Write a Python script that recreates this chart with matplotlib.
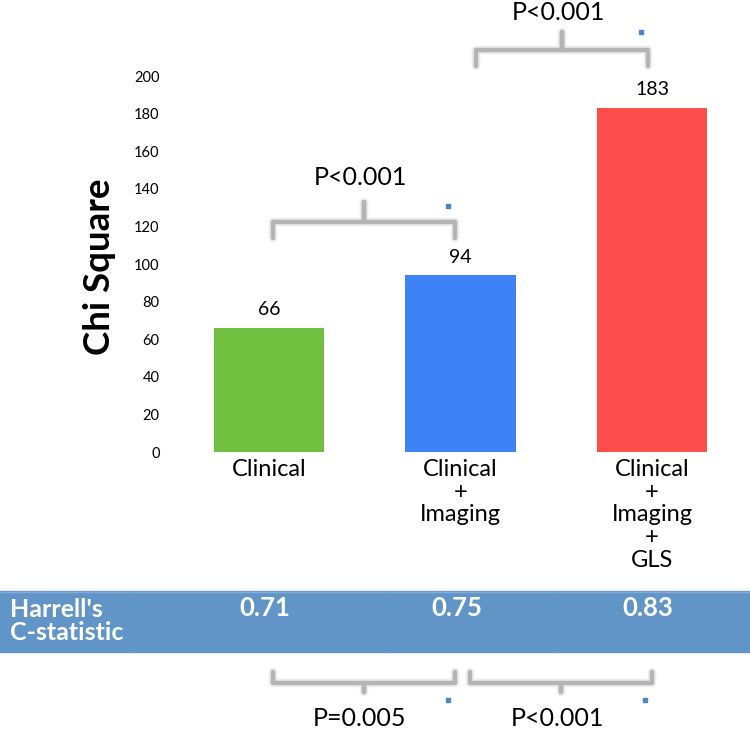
import numpy as np
import matplotlib.pyplot as plt
from matplotlib import transforms

plt.rcParams['font.family'] = ['Lato', 'DejaVu Sans']

# data
categories = ['Clinical', 'Clinical\n+\nImaging', 'Clinical\n+\nImaging\n+\nGLS']
chi_square = [66, 94, 183]
c_stat = ['0.71', '0.75', '0.83']
bar_colors = ['#71c03f', '#3f82f8', '#fd4c4c']
top_pairs = [(0, 1, 'P<0.001'), (1, 2, 'P<0.001')]
bottom_pairs = [(0, 1, 'P=0.005'), (1, 2, 'P<0.001')]

W, H = 750, 729
fig = plt.figure(figsize=(W / 100, H / 100), dpi=100)

# overlay in pixel coords (y from top)
ov = fig.add_axes([0, 0, 1, 1], zorder=0)
ov.set_xlim(0, W)
ov.set_ylim(H, 0)
ov.axis('off')

ax = fig.add_axes([175 / W, 1 - 452 / H, 565 / W, 376 / H], zorder=1)
ax.patch.set_alpha(0)
x = np.arange(len(categories))
ax.bar(x, chi_square, width=0.575, color=bar_colors)
ax.set_xlim(-0.491, 2.4595)
ax.set_ylim(0, 200)
ax.set_yticks(range(0, 201, 20))
ax.tick_params(axis='y', length=0, pad=11, labelsize=10.5)
ax.set_xticks(x, categories)
ax.tick_params(axis='x', length=0, pad=5, labelsize=17)
for lab in ax.get_xticklabels():
    lab.set_linespacing(1.1)
for s in ax.spines.values():
    s.set_visible(False)

for xi, v in zip(x, chi_square):
    ax.annotate(str(v), (xi, v), xytext=(0, 7), textcoords='offset points',
                ha='center', va='bottom', fontsize=14)

fig.text(100 / W, 1 - 267 / H, 'Chi Square', rotation=90, ha='center',
         va='center', fontsize=26.5, fontweight='bold')

# x in bar units, y in pixels from top
mix = transforms.blended_transform_factory(ax.transData, ov.transData)
gray = '#b4b4b4'


def bracket(a, b, y_end, y_mid, y_tip, label, y_text, mark):
    xs = [a, a, (a + b) / 2, (a + b) / 2, (a + b) / 2, b, b]
    ys = [y_end, y_mid, y_mid, y_tip, y_mid, y_mid, y_end]
    for lw, al in [(6, 0.25), (3.2, 1.0)]:
        ov.plot(xs, ys, color=gray, lw=lw, alpha=al, transform=mix,
                solid_joinstyle='round', solid_capstyle='round', clip_on=False)
    ov.text((a + b) / 2 - 0.02, y_text, label, transform=mix, ha='center',
            va='center', fontsize=18)
    ov.plot([b - 0.035], [mark], marker='s', ms=2.2, color='#4a86c8',
            transform=mix)


# top brackets
bracket(0.02, 0.97, 238, 222, 202, top_pairs[0][2], 177, 206)
bracket(1.08, 1.98, 66, 50, 32, top_pairs[1][2], 12, 32)

# C-statistic band
ov.add_patch(plt.Rectangle((0, 591), W, 61, color='#6195c8', zorder=1))
ov.plot([0, W], [592, 592], color='#84acd6', lw=1, zorder=2)
for xp in [133, 388, 557]:
    ov.plot([xp, xp], [592, 652], color='#6699cb', lw=0.8, zorder=2)
ov.text(10, 621, "Harrell's\nC-statistic", color='white', fontweight='bold',
        fontsize=18, ha='left', va='center', linespacing=1.0, zorder=3)
for xi, c in zip(x, c_stat):
    ov.text(xi - 0.02, 608, c, transform=mix, color='white',
            fontweight='bold', fontsize=18.5, ha='center', va='center', zorder=3)

# bottom brackets
for (a, b, lab), off in zip(bottom_pairs, [(0.02, -0.03), (0.05, 0.0)]):
    bracket(a + off[0], b + off[1], 672, 683, 692, lab, 718, 700)

fig.savefig('out.png', dpi=100)
